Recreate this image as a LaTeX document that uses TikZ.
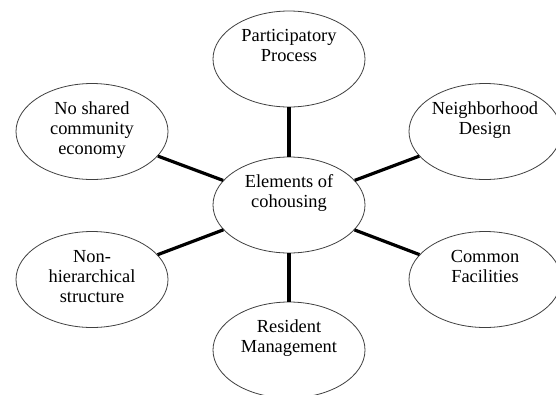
\documentclass[tikz,border=0pt]{standalone}
\usepackage{fontspec}
\setmainfont{Liberation Serif}
\usetikzlibrary{shapes.geometric}
\newcommand{\stk}[1]{\begin{tabular}[t]{@{}c@{}}#1\end{tabular}}
\begin{document}
\begin{tikzpicture}[x=1pt,y=-1pt,
  bubble/.style={ellipse, draw=black!75, line width=0.8pt, fill=white,
    minimum width=152pt, minimum height=96pt, inner sep=0pt},
  btext/.style={anchor=base, inner sep=0pt, yshift=17.5pt,
    font=\fontsize{18.4}{20}\selectfont},
  link/.style={line width=3.2pt, black}]
\useasboundingbox (0,0) rectangle (556,394);
\clip (0,0) rectangle (556,394);
\fill[white] (0,0) rectangle (556,394);

\node[bubble] (top) at (289,59) {};
\node[bubble] (nw)  at (92,131.5) {};
\node[bubble] (ne)  at (485,131.5) {};
\node[bubble] (mid) at (289,205) {};
\node[bubble] (sw)  at (92,279.5) {};
\node[bubble] (se)  at (485,279.5) {};
\node[bubble] (bot) at (289,350) {};

\node[btext] (topt) at (top.center) {\stk{Participatory\\Process}};
\node[btext] (nwt)  at (nw.center)  {\stk{No shared\\community\\economy}};
\node[btext] (net)  at (ne.center)  {\stk{Neighborhood\\Design}};
\node[btext] (midt) at (mid.center) {\stk{Elements of\\cohousing}};
\node[btext] (swt)  at (sw.center)  {\stk{Non-\\hierarchical\\structure}};
\node[btext] (set)  at (se.center)  {\stk{Common\\Facilities}};
\node[btext] (bott) at (bot.center) {\stk{Resident\\Management}};

\draw[link] (mid) -- (top);
\draw[link] (mid) -- (nw);
\draw[link] (mid) -- (ne);
\draw[link] (mid) -- (sw);
\draw[link] (mid) -- (se);
\draw[link] (mid) -- (bot);
\end{tikzpicture}
\end{document}
